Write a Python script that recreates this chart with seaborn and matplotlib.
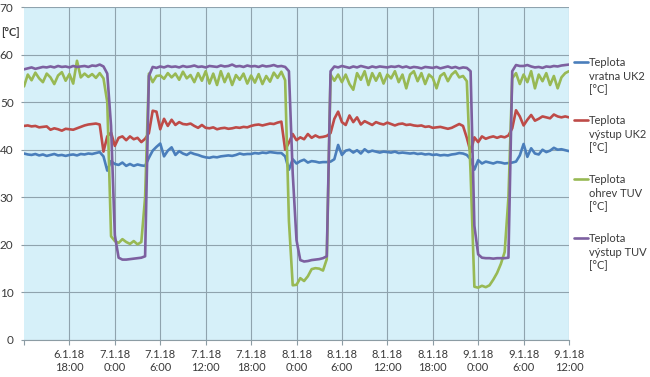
import numpy as np
import pandas as pd
import matplotlib
matplotlib.use("Agg")
import matplotlib.pyplot as plt
from matplotlib.lines import Line2D
import seaborn as sns

# ---------------- data ----------------
hours = np.arange(0, 72.5, 0.5)  # hours since 6.1.18 12:00

tick_hours = [6, 12, 18, 24, 30, 36, 42, 48, 54, 60, 66, 72]
tick_labels = ["6.1.18\n18:00", "7.1.18\n0:00", "7.1.18\n6:00", "7.1.18\n12:00",
               "7.1.18\n18:00", "8.1.18\n0:00", "8.1.18\n6:00", "8.1.18\n12:00",
               "8.1.18\n18:00", "9.1.18\n0:00", "9.1.18\n6:00", "9.1.18\n12:00"]
y_ticks = [0, 10, 20, 30, 40, 50, 60, 70]

series_names = ["Teplota vratna UK2 [°C]", "Teplota výstup UK2 [°C]",
                "Teplota ohrev TUV [°C]", "Teplota výstup TUV [°C]"]
legend_lines = [["Teplota", "vratna UK2", "[°C]"],
                ["Teplota", "výstup UK2", "[°C]"],
                ["Teplota", "ohrev TUV", "[°C]"],
                ["Teplota", "výstup TUV", "[°C]"]]

vratna_uk2 = [
    39.2, 39.0, 38.9, 39.1, 38.8, 39.0, 38.7, 38.9, 39.1, 38.8, 38.9, 38.7,
    38.9, 39.0, 38.8, 39.1, 39.0, 39.2, 39.1, 39.3, 39.5, 38.6, 35.6, 37.6,
    37.0, 36.8, 37.3, 36.6, 37.0, 36.6, 36.9, 36.7, 36.6, 38.3, 39.8, 40.6,
    41.3, 38.6, 39.8, 40.5, 38.9, 39.7, 39.2, 38.9, 39.4, 39.1, 38.9, 38.6,
    38.4, 38.3, 38.5, 38.4, 38.6, 38.7, 38.8, 38.7, 38.9, 39.2, 39.0, 39.1,
    39.1, 39.3, 39.2, 39.4, 39.3, 39.5, 39.4, 39.3, 39.3, 38.6, 35.8, 38.0,
    37.1, 37.6, 37.9, 37.3, 37.6, 37.5, 37.3, 37.4, 37.4, 37.5, 38.0, 41.0,
    38.9, 39.8, 40.0, 39.4, 39.9, 39.2, 40.1, 39.5, 39.8, 39.6, 39.4, 39.6,
    39.5, 39.4, 39.6, 39.3, 39.4, 39.3, 39.2, 39.3, 39.1, 39.2, 39.0, 39.1,
    38.9, 39.0, 38.8, 38.9, 38.8, 39.0, 39.1, 39.3, 39.2, 38.9, 38.0, 35.8,
    37.8, 37.1, 37.5, 37.3, 37.1, 37.4, 37.3, 37.1, 37.2, 37.3, 37.5, 38.8,
    41.2, 38.5, 40.3, 39.2, 39.0, 40.0, 39.5, 39.8, 40.4, 40.0, 40.1, 39.9,
    39.7]

vystup_uk2 = [
    45.0, 45.1, 44.9, 45.0, 44.7, 44.8, 44.9, 44.2, 44.5, 44.3, 44.0, 44.4,
    44.3, 44.2, 44.5, 44.8, 45.1, 45.3, 45.4, 45.5, 45.3, 39.6, 42.8, 43.6,
    40.8, 42.5, 42.8, 42.0, 42.8, 42.2, 42.5, 41.6, 42.3, 43.5, 48.2, 48.0,
    44.3, 46.5, 45.0, 46.3, 45.2, 45.8, 45.4, 45.3, 45.5, 45.0, 44.6, 45.2,
    44.6, 44.5, 44.7, 44.3, 44.5, 44.6, 44.4, 44.5, 44.7, 44.6, 44.8, 44.7,
    45.0, 45.2, 45.3, 45.1, 45.3, 45.5, 45.4, 45.7, 45.9, 40.0, 41.5, 43.3,
    42.0, 42.6, 42.2, 43.3, 42.5, 43.0, 42.6, 42.7, 42.9, 43.5, 46.5, 48.0,
    45.8, 45.2, 47.2, 45.8, 46.8, 45.3, 46.0, 45.6, 45.2, 45.8, 45.5, 45.3,
    45.7, 45.4, 45.1, 45.4, 45.5, 45.2, 45.3, 45.1, 45.0, 45.1, 44.8, 44.9,
    44.6, 44.7, 44.8, 44.6, 44.4, 44.6, 45.0, 45.4, 45.0, 42.5, 39.5, 42.6,
    41.6, 42.8, 42.3, 42.6, 42.8, 42.5, 42.8, 42.6, 43.0, 44.5, 48.3, 47.0,
    45.1, 46.3, 47.3, 46.1, 46.5, 47.0, 46.8, 46.6, 47.4, 47.0, 46.8, 47.0,
    46.8]

ohrev_tuv = [
    53.3, 55.8, 54.6, 56.2, 55.0, 54.2, 56.0, 55.2, 53.8, 55.6, 56.3, 54.5,
    55.9, 53.9, 58.7, 55.2, 56.0, 55.3, 55.9, 55.1, 56.1, 55.0, 50.0, 21.8,
    20.8, 20.4, 21.2, 20.6, 20.2, 20.8, 20.1, 20.6, 30.0, 56.0, 54.2, 55.5,
    55.6, 54.9, 56.1, 55.2, 56.0, 54.7, 56.4, 55.0, 55.7, 54.2, 56.1, 54.5,
    56.5, 53.9, 56.0, 53.6, 56.5, 54.2, 56.0, 53.6, 55.7, 54.7, 56.0, 53.9,
    55.6, 54.1, 55.9, 53.8, 55.5, 54.3, 56.2, 55.1, 56.4, 54.6, 25.0, 11.5,
    11.6, 13.0, 12.4, 13.4, 14.9, 15.1, 15.0, 14.6, 17.0, 55.8, 54.5, 55.8,
    54.2, 55.8, 53.8, 52.6, 56.1, 54.7, 56.5, 53.6, 56.1, 54.5, 56.1, 53.9,
    55.8, 55.0, 56.5, 54.2, 55.8, 52.9, 55.8, 56.5, 54.4, 56.1, 53.8, 55.8,
    55.1, 52.9, 55.5, 56.1, 54.4, 55.8, 56.5, 55.2, 55.5, 54.4, 35.0, 11.2,
    11.0, 11.4, 11.1, 11.5, 12.7, 14.1, 16.0, 18.5, 30.0, 55.0, 56.1, 53.8,
    55.8, 54.2, 56.5, 52.9, 55.8, 54.4, 56.1, 53.6, 55.5, 52.9, 55.2, 56.1,
    56.5]

vystup_tuv = [
    56.9, 57.1, 57.3, 57.0, 57.2, 57.4, 57.3, 57.5, 57.3, 57.6, 57.4, 57.5,
    57.3, 57.6, 57.4, 57.5, 57.6, 57.4, 57.7, 57.6, 57.9, 57.5, 56.0, 45.0,
    22.0, 17.3, 16.9, 16.9, 17.0, 17.1, 17.2, 17.3, 17.6, 55.5, 57.4, 57.2,
    57.5, 57.3, 57.6, 57.4, 57.5, 57.3, 57.6, 57.4, 57.5, 57.7, 57.4, 57.5,
    57.3, 57.6, 57.5, 57.4, 57.7, 57.5, 57.6, 57.9, 57.5, 57.6, 57.4, 57.7,
    57.5, 57.6, 57.4, 57.7, 57.5, 57.6, 57.8, 57.5, 57.6, 57.4, 56.5, 35.0,
    21.0, 16.8, 16.5, 16.6, 16.8, 16.9, 17.0, 17.2, 17.6, 56.5, 57.5, 57.3,
    57.6, 57.4, 57.2, 57.5, 57.3, 57.6, 57.4, 57.2, 57.5, 57.3, 57.5, 57.4,
    57.3, 57.5, 57.4, 57.6, 57.3, 57.5, 57.2, 57.4, 57.3, 57.1, 57.4, 57.3,
    57.2, 57.4, 57.1, 57.3, 57.5, 57.2, 57.4, 57.1, 57.3, 57.2, 56.5, 24.0,
    18.0, 17.3, 17.2, 17.2, 17.1, 17.2, 17.2, 17.2, 17.3, 56.5, 57.8, 57.6,
    57.6, 57.8, 57.5, 57.3, 57.4, 57.2, 57.5, 57.4, 57.6, 57.5, 57.7, 57.8,
    57.9]

colors = ["#4A7EBB", "#BE4B48", "#98B954", "#7D60A0"]

# ---------------- figure ----------------
sns.set_theme(style="white")
plt.rcParams["font.family"] = ["Lato", "DejaVu Sans"]

W, H = 650, 377
fig = plt.figure(figsize=(W / 100, H / 100), dpi=100)
fig.patch.set_facecolor("white")
ax_l, ax_r, ax_t, ax_b = 24, 569, 7, 340
ax = fig.add_axes([ax_l / W, 1 - ax_b / H, (ax_r - ax_l) / W, (ax_b - ax_t) / H])
ax.set_facecolor("#D6F0F9")

frames = []
for name, vals in zip(series_names, [vratna_uk2, vystup_uk2, ohrev_tuv, vystup_tuv]):
    frames.append(pd.DataFrame({"hour": hours, "value": vals, "series": name}))
df = pd.concat(frames, ignore_index=True)

sns.lineplot(data=df, x="hour", y="value", hue="series", hue_order=series_names,
             palette=colors, estimator=None, legend=False, linewidth=1.9, ax=ax,
             zorder=3)

ax.set_xlim(0, 72)
ax.set_ylim(0, 70)
ax.set_xticks(tick_hours)
ax.set_xticklabels(tick_labels)
ax.set_xticks([0], minor=True)
ax.set_yticks(y_ticks)
ax.set_xlabel("")
ax.set_ylabel("")

grid_col = "#8FA3AE"
ax.grid(True, which="major", color=grid_col, linewidth=0.8, zorder=1)
ax.set_axisbelow(True)
for s in ["left", "top", "right"]:
    ax.spines[s].set_visible(False)
ax.spines["bottom"].set_color("#8C9CA4")
ax.spines["bottom"].set_linewidth(0.8)

ax.tick_params(axis="x", which="both", direction="out", length=3.5, width=0.8,
               color="#8C9CA4", pad=3, labelsize=8, labelcolor="#3A3A3A", bottom=True)
ax.tick_params(axis="y", direction="out", length=2.5, width=0.8,
               color="#8C9CA4", pad=5, labelsize=8.5, labelcolor="#3A3A3A", left=True)

# unit label
fig.text(1 / W, 1 - 33 / H, "[°C]", fontsize=8, fontweight="bold",
         color="#3A3A3A", ha="left", va="center")

# legend (Excel style: marker aligned with first text line)
first_y = [62, 120, 179, 238]
for lines, col, y0 in zip(legend_lines, colors, first_y):
    fig.add_artist(Line2D([574 / W, 588 / W], [1 - y0 / H, 1 - y0 / H],
                          color=col, linewidth=1.9, transform=fig.transFigure))
    for j, txt in enumerate(lines):
        fig.text(589 / W, 1 - (y0 + 14 * j) / H, txt, fontsize=8,
                 color="#3A3A3A", ha="left", va="center")

fig.savefig("out.png", dpi=100)
